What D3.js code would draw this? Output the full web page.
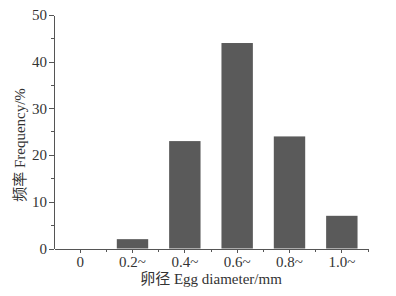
<!DOCTYPE html>
<meta charset="utf-8">
<style>
body { margin: 0; background: #fff; }
text { font-family: "Liberation Serif", "Noto Sans CJK SC", serif; fill: #333; }
.axis path, .axis line { stroke: #555; shape-rendering: crispEdges; }
</style>
<svg width="396" height="296"></svg>
<script src="https://d3js.org/d3.v7.min.js"></script>
<script>

var categories = ["0", "0.2~", "0.4~", "0.6~", "0.8~", "1.0~"];
var frequency = [0, 2, 23, 44, 24, 7];
var yTicks = [0, 10, 20, 30, 40, 50];
var yMinor = [5, 15, 25, 35, 45];

var svg = d3.select("svg"),
    plotLeft = 54, plotRight = 368, plotTop = 15, plotBottom = 248.5;

var x = d3.scaleBand()
    .domain(categories)
    .range([plotLeft, plotRight])
    .paddingInner(0.4)
    .paddingOuter(0.2);

var y = d3.scaleLinear()
    .domain([0, 50])
    .range([plotBottom, plotTop]);

// bars
svg.append("g")
  .selectAll("rect")
  .data(frequency)
  .enter().append("rect")
    .attr("x", function(d, i) { return x(categories[i]); })
    .attr("y", function(d) { return y(d); })
    .attr("width", x.bandwidth())
    .attr("height", function(d) { return y(0) - y(d); })
    .attr("fill", "#5a5a5a");

// y axis
var yAxis = svg.append("g")
    .attr("class", "axis")
    .attr("transform", "translate(" + plotLeft + ",0)")
    .call(d3.axisLeft(y).tickValues(yTicks).tickSize(5).tickSizeOuter(0).tickPadding(2));
yAxis.selectAll("text").style("font-size", "15px");
yAxis.selectAll(".minor")
  .data(yMinor)
  .enter().append("line")
    .attr("class", "minor")
    .attr("x1", -3).attr("x2", 0)
    .attr("y1", function(d) { return y(d); })
    .attr("y2", function(d) { return y(d); });

// x axis
var xAxis = svg.append("g")
    .attr("class", "axis")
    .attr("transform", "translate(0," + plotBottom + ")")
    .call(d3.axisBottom(x).tickSize(4).tickSizeOuter(0).tickPadding(4));
xAxis.selectAll("text").style("font-size", "15px");
var step = x.step();
xAxis.selectAll(".minor")
  .data(categories)
  .enter().append("line")
    .attr("class", "minor")
    .attr("y1", 0).attr("y2", 3)
    .attr("x1", function(d) { return x(d) + x.bandwidth() / 2 + step / 2; })
    .attr("x2", function(d) { return x(d) + x.bandwidth() / 2 + step / 2; });

// axis titles
svg.append("text")
    .attr("x", 211)
    .attr("y", 284)
    .attr("text-anchor", "middle")
    .style("font-size", "15px")
    .text("卵径 Egg diameter/mm");

svg.append("text")
    .attr("transform", "translate(25,145) rotate(-90)")
    .attr("text-anchor", "middle")
    .style("font-size", "15px")
    .text("频率 Frequency/%");

</script>
